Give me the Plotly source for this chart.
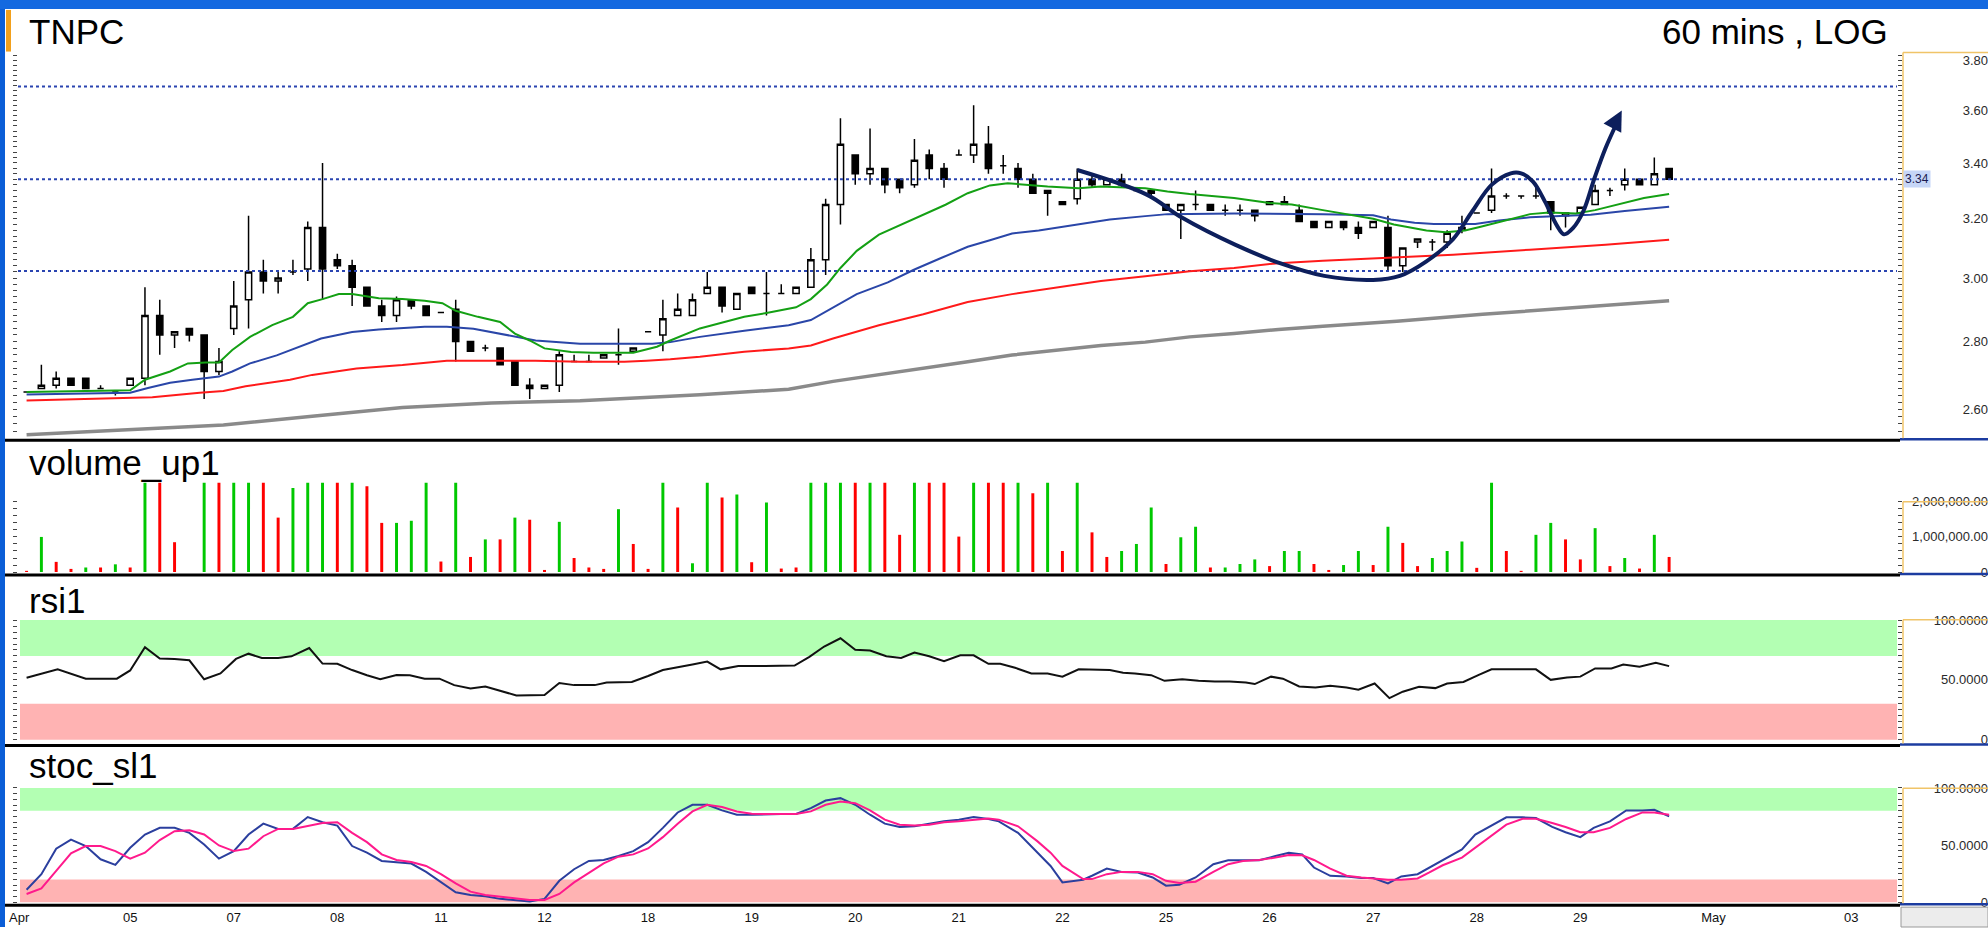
import numpy as np
import plotly.graph_objects as go

# ---------------- data ----------------
bar_index = list(range(112))

open_price = [2.65, 2.66, 2.67, 2.69, 2.69, 2.66, 2.65, 2.67, 2.69, 2.88,
              2.82, 2.84, 2.82, 2.71, 2.84, 2.93, 3.02, 2.99, 3.02, 3.03,
              3.17, 3.06, 3.04, 2.97, 2.91, 2.88, 2.93, 2.91, 2.89, 2.90,
              2.80, 2.78, 2.78, 2.74, 2.67, 2.66, 2.67, 2.74, 2.74, 2.75,
              2.76, 2.77, 2.83, 2.82, 2.88, 2.88, 2.95, 2.97, 2.90, 2.97,
              2.95, 2.95, 2.95, 2.97, 3.06, 3.25, 3.43, 3.36, 3.38, 3.34,
              3.32, 3.43, 3.38, 3.43, 3.43, 3.47, 3.39, 3.38, 3.34, 3.30,
              3.26, 3.27, 3.34, 3.32, 3.34, 3.30, 3.30, 3.25, 3.23, 3.25,
              3.25, 3.23, 3.23, 3.23, 3.25, 3.26, 3.23, 3.19, 3.17, 3.19,
              3.17, 3.17, 3.17, 3.04, 3.12, 3.12, 3.12, 3.16, 3.22, 3.23,
              3.28, 3.28, 3.28, 3.26, 3.21, 3.22, 3.25, 3.30, 3.32, 3.34,
              3.32, 3.38]
high_price = [2.65, 2.73, 2.71, 2.69, 2.69, 2.67, 2.65, 2.69, 2.97, 2.93,
              2.83, 2.84, 2.82, 2.78, 2.99, 3.21, 3.06, 3.02, 3.06, 3.19,
              3.40, 3.08, 3.06, 2.97, 2.93, 2.94, 2.93, 2.91, 2.89, 2.93,
              2.80, 2.79, 2.78, 2.74, 2.69, 2.67, 2.77, 2.76, 2.76, 2.76,
              2.84, 2.78, 2.83, 2.93, 2.95, 2.95, 3.02, 2.97, 2.95, 2.97,
              3.02, 2.98, 2.97, 3.10, 3.27, 3.57, 3.43, 3.53, 3.38, 3.34,
              3.49, 3.45, 3.40, 3.45, 3.62, 3.54, 3.43, 3.40, 3.36, 3.30,
              3.26, 3.38, 3.36, 3.34, 3.36, 3.31, 3.30, 3.25, 3.25, 3.30,
              3.25, 3.25, 3.25, 3.23, 3.26, 3.28, 3.25, 3.19, 3.19, 3.19,
              3.19, 3.19, 3.21, 3.10, 3.13, 3.13, 3.16, 3.21, 3.22, 3.38,
              3.29, 3.28, 3.31, 3.26, 3.22, 3.24, 3.32, 3.31, 3.38, 3.34,
              3.42, 3.38]
low_price = [2.65, 2.66, 2.66, 2.67, 2.66, 2.66, 2.64, 2.67, 2.67, 2.76,
             2.78, 2.80, 2.63, 2.70, 2.82, 2.84, 2.95, 2.95, 3.01, 2.99,
             2.93, 3.03, 2.91, 2.91, 2.86, 2.86, 2.90, 2.88, 2.89, 2.74,
             2.77, 2.77, 2.73, 2.67, 2.63, 2.66, 2.65, 2.74, 2.74, 2.75,
             2.73, 2.77, 2.83, 2.77, 2.88, 2.88, 2.95, 2.89, 2.90, 2.95,
             2.88, 2.95, 2.95, 2.97, 3.01, 3.18, 3.32, 3.32, 3.29, 3.29,
             3.31, 3.34, 3.31, 3.43, 3.40, 3.36, 3.36, 3.31, 3.29, 3.21,
             3.25, 3.25, 3.31, 3.32, 3.31, 3.30, 3.27, 3.23, 3.13, 3.23,
             3.23, 3.21, 3.21, 3.19, 3.25, 3.25, 3.19, 3.17, 3.17, 3.16,
             3.13, 3.17, 3.02, 3.02, 3.10, 3.09, 3.10, 3.15, 3.22, 3.22,
             3.27, 3.27, 3.27, 3.16, 3.17, 3.22, 3.25, 3.28, 3.30, 3.32,
             3.32, 3.34]
close_price = [2.65, 2.67, 2.69, 2.67, 2.66, 2.66, 2.65, 2.69, 2.88, 2.82,
               2.83, 2.82, 2.71, 2.74, 2.91, 3.02, 2.99, 3.00, 3.02, 3.17,
               3.03, 3.04, 2.97, 2.91, 2.88, 2.93, 2.91, 2.88, 2.89, 2.80,
               2.77, 2.78, 2.73, 2.67, 2.66, 2.67, 2.76, 2.74, 2.74, 2.76,
               2.76, 2.78, 2.83, 2.87, 2.90, 2.93, 2.97, 2.91, 2.95, 2.95,
               2.95, 2.95, 2.97, 3.06, 3.25, 3.47, 3.36, 3.38, 3.32, 3.31,
               3.41, 3.38, 3.34, 3.43, 3.47, 3.38, 3.39, 3.34, 3.29, 3.29,
               3.25, 3.34, 3.32, 3.34, 3.32, 3.30, 3.29, 3.23, 3.25, 3.25,
               3.23, 3.23, 3.23, 3.21, 3.26, 3.25, 3.19, 3.17, 3.19, 3.17,
               3.15, 3.19, 3.04, 3.10, 3.13, 3.12, 3.15, 3.17, 3.22, 3.28,
               3.28, 3.28, 3.28, 3.22, 3.22, 3.24, 3.30, 3.30, 3.34, 3.32,
               3.36, 3.34]

# moving averages (x = bar position, value = price)
ma_fast_x = [0, 7, 8, 9.7, 10.9, 12.1, 13, 13.9, 15.1, 16.6, 18, 19, 20, 21.1, 22, 23.8, 25.4, 26.9, 28.1, 29,
             30.5, 32, 33, 34, 35, 36.8, 38.3, 41, 42.6, 43.5, 45.5, 48.5, 50, 52, 53, 54.1, 55, 56.1, 57.6, 59.1,
             60.6, 62.1, 63.6, 65.1, 66.3, 67.2, 69, 71.1, 72.6, 75.6, 77.1, 78.6, 81.6, 84, 85.5, 87.6, 89.4, 91,
             92.4, 94.6, 95.9, 97.2, 98.2, 99.5, 101.6, 102.9, 104.7, 106, 107.5, 109.3, 111]
ma_fast = [2.650, 2.655, 2.686, 2.710, 2.734, 2.737, 2.737, 2.774, 2.814, 2.850, 2.876, 2.919, 2.932, 2.948,
           2.948, 2.935, 2.932, 2.927, 2.919, 2.895, 2.876, 2.860, 2.824, 2.803, 2.779, 2.768, 2.766, 2.766,
           2.784, 2.803, 2.840, 2.876, 2.888, 2.906, 2.932, 2.979, 3.033, 3.090, 3.145, 3.179, 3.214, 3.249,
           3.290, 3.318, 3.326, 3.322, 3.314, 3.308, 3.314, 3.308, 3.296, 3.287, 3.273, 3.255, 3.250, 3.230,
           3.214, 3.200, 3.180, 3.159, 3.153, 3.159, 3.171, 3.188, 3.216, 3.222, 3.218, 3.230, 3.249, 3.273, 3.287]
ma_mid_x = [0, 7, 8.2, 9.7, 11.2, 13, 13.9, 15.1, 16.9, 18.7, 19.9, 22, 23.8, 26.9, 28.4, 30.2, 32, 34.4, 37.4,
            40.4, 42.3, 43.5, 45.5, 48.5, 51.5, 53, 54.5, 56.1, 58.2, 60, 61.8, 63.6, 65.1, 66.6, 68.4, 71.1, 73.2,
            75.6, 77.1, 81.6, 84.6, 87.6, 91, 92.2, 93.8, 95.1, 97.9, 99.5, 101.6, 104.1, 105.7, 108, 111]
ma_mid = [2.643, 2.648, 2.662, 2.677, 2.686, 2.695, 2.710, 2.734, 2.758, 2.788, 2.809, 2.829, 2.837, 2.845,
          2.845, 2.839, 2.824, 2.803, 2.793, 2.793, 2.793, 2.798, 2.814, 2.833, 2.850, 2.866, 2.906, 2.948,
          2.986, 3.028, 3.066, 3.104, 3.126, 3.149, 3.159, 3.179, 3.197, 3.209, 3.216, 3.218, 3.218, 3.216,
          3.212, 3.197, 3.186, 3.182, 3.182, 3.194, 3.205, 3.212, 3.214, 3.227, 3.242]
ma_slow_x = [0, 7, 8.5, 11.7, 13.3, 14.8, 16.3, 17.8, 19.3, 22.3, 25.4, 28.4, 31.4, 34.4, 37.4, 40.4, 41.9, 43.5,
             45.5, 48.5, 51.5, 53, 54.5, 57.6, 60.6, 63.6, 66.6, 69.6, 72.6, 75.6, 78.6, 81.6, 84.6, 87.6, 91.2,
             96.4, 101.6, 106.7, 111]
ma_slow = [2.626, 2.632, 2.635, 2.648, 2.653, 2.667, 2.677, 2.686, 2.700, 2.719, 2.729, 2.742, 2.742, 2.742,
           2.739, 2.739, 2.742, 2.746, 2.754, 2.769, 2.779, 2.788, 2.809, 2.850, 2.884, 2.923, 2.948, 2.969,
           2.990, 3.006, 3.022, 3.033, 3.049, 3.057, 3.066, 3.077, 3.094, 3.111, 3.128]
ma_long_x = [0, 7.3, 13.3, 19.3, 25.4, 31.4, 37.4, 45.5, 51.5, 54.5, 57.6, 60.6, 63.6, 66.6, 69.6, 72.6, 75.6,
             78.6, 81.6, 84.6, 87.6, 92.6, 98.4, 111]
ma_long = [2.530, 2.544, 2.557, 2.581, 2.606, 2.619, 2.625, 2.642, 2.658, 2.681, 2.700, 2.719, 2.739, 2.759,
           2.774, 2.788, 2.798, 2.814, 2.824, 2.837, 2.847, 2.862, 2.884, 2.927]

level_lines = [3.695, 3.34, 3.023]

# hand-drawn navy sketch (bar position, price)
sketch_x = [71.0, 75.7, 78.1, 81.7, 84.7, 87.7, 91.0, 92.8, 94.6, 96.4, 97.7, 99.0, 100.3, 101.0, 101.8, 102.6,
            103.4, 103.9, 104.5, 105.2, 105.96, 106.7, 107.5]
sketch_p = [3.374, 3.285, 3.203, 3.110, 3.049, 3.007, 2.994, 3.007, 3.055, 3.130, 3.226, 3.320, 3.362, 3.362,
            3.332, 3.261, 3.178, 3.146, 3.167, 3.226, 3.345, 3.455, 3.555]
arrow_tip = (107.8, 3.60)

volume_m = [0.03, 1.0, 0.29, 0.09, 0.13, 0.13, 0.22, 0.13, 3.0, 3.0,
            0.85, 0.0, 3.0, 3.0, 3.0, 3.0, 3.0, 1.55, 2.39, 3.0,
            3.0, 3.0, 3.0, 2.44, 1.40, 1.40, 1.46, 3.0, 0.30, 3.0,
            0.43, 0.93, 0.93, 1.55, 1.49, 0.06, 1.43, 0.40, 0.13, 0.09,
            1.79, 0.80, 0.09, 3.0, 1.84, 0.25, 3.0, 2.12, 2.21, 0.28,
            1.98, 0.10, 0.13, 3.0, 3.0, 3.0, 3.0, 3.0, 3.0, 1.06,
            3.0, 3.0, 3.0, 1.01, 3.0, 3.0, 3.0, 3.0, 2.24, 3.0,
            0.60, 3.0, 1.13, 0.43, 0.60, 0.80, 1.84, 0.23, 0.99, 1.29,
            0.13, 0.13, 0.23, 0.36, 0.17, 0.60, 0.60, 0.23, 0.06, 0.20,
            0.60, 0.20, 1.29, 0.83, 0.17, 0.40, 0.60, 0.87, 0.12, 3.0,
            0.60, 0.03, 1.06, 1.40, 0.93, 0.36, 1.25, 0.17, 0.40, 0.10,
            1.06, 0.43]
volume_dir = ['d', 'u', 'd', 'd', 'u', 'd', 'u', 'd', 'u', 'd',
              'd', 'd', 'u', 'd', 'u', 'u', 'd', 'd', 'u', 'u',
              'u', 'd', 'u', 'd', 'd', 'u', 'u', 'u', 'd', 'u',
              'd', 'u', 'd', 'u', 'd', 'd', 'u', 'd', 'd', 'd',
              'u', 'd', 'd', 'u', 'd', 'u', 'u', 'd', 'u', 'd',
              'u', 'd', 'd', 'u', 'u', 'u', 'd', 'u', 'd', 'd',
              'u', 'd', 'd', 'd', 'u', 'd', 'd', 'u', 'd', 'u',
              'd', 'u', 'd', 'd', 'u', 'u', 'u', 'd', 'u', 'u',
              'd', 'u', 'u', 'u', 'd', 'u', 'u', 'd', 'd', 'u',
              'u', 'd', 'u', 'd', 'd', 'u', 'u', 'u', 'd', 'u',
              'd', 'd', 'u', 'u', 'd', 'd', 'u', 'd', 'u', 'd',
              'u', 'd']

rsi_x = [0, 2.1, 4, 6.1, 7, 8, 9, 10, 11, 12, 13.1, 14.15, 15, 15.9, 17, 17.9, 19.1, 20, 21, 22, 23, 23.9, 25,
         25.9, 26.9, 27.9, 28.9, 30, 31, 32, 33.1, 35, 36, 37, 38.4, 39.2, 40.9, 42, 43, 45, 46, 46.9, 48.1, 49.9,
         51.9, 52.9, 53.9, 55, 56, 57, 58.1, 59.1, 60, 61, 62, 63.1, 64, 65, 65.8, 66.8, 67.9, 69, 70, 71.1, 72.2,
         73.2, 74.1, 74.9, 76, 76.9, 78.1, 79.2, 80.3, 81.3, 82.4, 83, 84.1, 84.9, 86, 87.1, 88.1, 89.2, 90, 91.1,
         92.1, 93, 94.1, 95.2, 96, 97.1, 98.1, 99, 102, 103, 104.1, 105, 106, 107.1, 107.9, 109, 110.1, 111]
rsi = [51.7, 58.8, 51.0, 51.0, 57.9, 77.4, 67.8, 67.5, 66.4, 50.5, 55.4, 67.5, 71.9, 68.3, 68.3, 69.7, 76.6,
       63.6, 63.4, 58.2, 53.9, 50.5, 54.1, 53.9, 51.0, 51.0, 45.6, 42.8, 44.5, 40.9, 36.9, 37.4, 47.3, 45.6,
       45.6, 47.8, 48.3, 53.2, 58.2, 62.8, 65.3, 58.8, 61.5, 61.5, 62.0, 69.2, 77.9, 84.8, 75.2, 74.6, 69.7,
       68.3, 72.9, 69.7, 65.6, 70.5, 70.5, 63.4, 63.5, 60.1, 55.4, 55.4, 52.7, 58.8, 58.2, 58.2, 56.0, 55.4,
       53.9, 49.2, 50.5, 49.2, 48.6, 48.6, 47.8, 46.5, 52.7, 51.0, 44.5, 43.6, 45.0, 43.6, 41.8, 47.0, 34.7,
       40.1, 44.3, 43.1, 47.0, 48.3, 53.9, 58.8, 58.8, 50.0, 51.9, 52.7, 59.6, 59.6, 62.8, 60.9, 64.2, 61.5]

stoch_x = list(range(66)) + [65.7, 67.0, 68.3, 69.2, 70.0, 71.4, 72.0, 73.0, 74.0, 75.1, 76.1, 77.0, 77.9,
                             79.0, 80.2, 81.2, 82.2, 83.3, 84.4, 85.3, 86.2, 87.0, 88.1, 89.2, 90.2, 91.0,
                             92.0, 92.9, 94.0, 94.8, 95.7, 97.0, 97.9, 99.0, 100.0, 101.1, 102.0, 103.1,
                             104.0, 105.0, 105.9, 107.0, 108.1, 109.2, 110.0, 111.0]
stoch_k = [11.0, 24.6, 46.9, 54.9, 49.2, 37.6, 32.7, 47.7, 59.3, 65.1, 65.1, 60.7, 50.6, 38.2, 44.8, 59.3,
           68.8, 64.2, 64.2, 74.6, 70.0, 67.1, 49.2, 43.4, 36.2, 35.3, 33.9, 26.6, 17.4, 8.7, 6.4, 5.3, 3.0,
           1.5, 0.6, 3.0, 18.8, 28.9, 36.2, 37.0, 40.5, 44.8, 52.6, 65.1, 78.6, 85.3, 85.3, 80.4, 76.6, 76.6,
           77.2, 77.2, 77.2, 82.4, 89.0, 91.1, 85.3, 76.6, 68.8, 65.9, 66.5, 68.8, 70.8, 72.3, 74.6, 72.9,
           70.8, 60.7, 43.4, 31.8, 17.4, 19.7, 23.2, 29.5, 26.6, 26.1, 21.7, 14.5, 15.4, 21.7, 33.3, 36.7,
           36.7, 36.7, 40.5, 43.4, 41.9, 30.4, 23.2, 22.6, 21.2, 21.2, 16.5, 22.6, 24.6, 30.4, 37.6, 46.3,
           59.3, 67.1, 74.3, 74.3, 73.7, 65.9, 61.3, 57.0, 65.1, 70.8, 80.4, 80.4, 80.9, 75.2]
stoch_d = [7.3, 12.2, 27.5, 42.8, 49.2, 49.2, 44.8, 38.2, 43.4, 54.4, 62.2, 63.0, 59.3, 49.7, 44.8, 46.9,
           57.8, 64.2, 64.2, 67.1, 69.4, 70.0, 60.7, 52.6, 41.9, 37.0, 35.3, 31.8, 24.6, 16.5, 9.3, 6.4, 5.0,
           3.0, 2.1, 2.1, 7.3, 17.4, 26.1, 34.1, 39.9, 41.9, 47.1, 57.0, 68.8, 79.5, 85.3, 83.3, 79.5, 77.5,
           77.2, 77.2, 77.2, 79.5, 85.3, 88.2, 86.7, 80.4, 72.3, 67.9, 67.1, 67.9, 70.0, 70.8, 72.3, 73.4,
           72.3, 66.5, 53.5, 43.4, 31.8, 20.3, 20.3, 24.6, 26.6, 26.6, 24.6, 18.8, 16.8, 18.0, 26.6, 33.3,
           36.2, 37.0, 39.1, 41.4, 41.1, 37.0, 29.5, 23.2, 21.7, 20.9, 19.7, 19.7, 20.9, 26.1, 32.4, 39.1,
           47.7, 57.8, 67.9, 73.1, 73.1, 69.4, 65.9, 61.3, 61.3, 65.1, 72.9, 78.6, 78.6, 76.6]

day_tick_pos = [-0.5, 7, 14, 21, 28, 35, 42, 49, 56, 63, 70, 77, 84, 91, 98, 105, 114, 123.3]
day_tick_text = ["Apr", "05", "07", "08", "11", "12", "18", "19", "20", "21", "22", "25", "26", "27", "28",
                 "29", "May", "03"]
price_ticks = [2.60, 2.80, 3.00, 3.20, 3.40, 3.60, 3.80]
volume_ticks = [0, 1_000_000, 2_000_000]
osc_ticks = [0, 50, 100]

# ---------------- geometry ----------------
W, H = 1988, 935
ML = 18
PLOT_R = 1897
XD = (PLOT_R - ML) / (W - ML)


def px(X):
    return (X - ML) / (W - ML)


def py(Y):
    return 1 - Y / H


X_RANGE = [-0.58, 126.4]
LOG_RANGE = [np.log10(2.523), np.log10(3.834)]
VOL_RANGE = [0, 2.54e6]
RSI_RANGE = [-3.3, 135.2]
STO_RANGE = [-0.8, 134.5]

NAVY = '#0d1f5c'
fig = go.Figure()

# level dotted lines
for lv in level_lines:
    fig.add_trace(go.Scatter(x=X_RANGE, y=[lv, lv], mode='lines',
                             line=dict(color='#2a44b0', width=2, dash='dot'),
                             xaxis='x', yaxis='y', hoverinfo='skip'))

# moving averages
fig.add_trace(go.Scatter(x=ma_long_x, y=ma_long, mode='lines', line=dict(color='#8a8a8a', width=3.5),
                         xaxis='x', yaxis='y', hoverinfo='skip'))
fig.add_trace(go.Scatter(x=ma_slow_x, y=ma_slow, mode='lines', line=dict(color='#ff1a1a', width=2),
                         xaxis='x', yaxis='y', hoverinfo='skip'))
fig.add_trace(go.Scatter(x=ma_mid_x, y=ma_mid, mode='lines', line=dict(color='#2a46a8', width=2),
                         xaxis='x', yaxis='y', hoverinfo='skip'))
fig.add_trace(go.Scatter(x=ma_fast_x, y=ma_fast, mode='lines', line=dict(color='#14a014', width=2),
                         xaxis='x', yaxis='y', hoverinfo='skip'))

# candles
fig.add_trace(go.Candlestick(x=bar_index, open=open_price, high=high_price, low=low_price, close=close_price,
                             increasing=dict(line=dict(color='black', width=1.5), fillcolor='white'),
                             decreasing=dict(line=dict(color='black', width=1.5), fillcolor='black'),
                             whiskerwidth=0, xaxis='x', yaxis='y', hoverinfo='skip'))

# sketch
fig.add_trace(go.Scatter(x=sketch_x, y=sketch_p, mode='lines', line=dict(color=NAVY, width=4, shape='spline'),
                         xaxis='x', yaxis='y', hoverinfo='skip'))

# volume
vol_colors = ['#00c800' if d == 'u' else '#ff0000' for d in volume_dir]
fig.add_trace(go.Bar(x=bar_index, y=[v * 1e6 for v in volume_m], marker=dict(color=vol_colors, line=dict(width=0)),
                     width=0.2, xaxis='x', yaxis='y2', hoverinfo='skip'))

# rsi
fig.add_trace(go.Scatter(x=rsi_x, y=rsi, mode='lines', line=dict(color='#111111', width=2),
                         xaxis='x', yaxis='y3', hoverinfo='skip'))

# stochastic
fig.add_trace(go.Scatter(x=stoch_x, y=stoch_k, mode='lines', line=dict(color='#2b3f9e', width=2),
                         xaxis='x', yaxis='y4', hoverinfo='skip'))
fig.add_trace(go.Scatter(x=stoch_x, y=stoch_d, mode='lines', line=dict(color='#ff1a8c', width=2),
                         xaxis='x', yaxis='y4', hoverinfo='skip'))

# empty traces to realise the label axes
for ax in ['y5', 'y6', 'y7', 'y8']:
    fig.add_trace(go.Scatter(x=[None], y=[None], xaxis='x', yaxis=ax, hoverinfo='skip'))

ruler = dict(showticklabels=False, ticks='outside', ticklen=4, tickcolor='#444', tickwidth=1,
             mirror='ticks', showgrid=False, zeroline=False, showline=False, side='right', anchor='x',
             fixedrange=True)
label_ax = dict(anchor='free', position=1.0, side='left', ticks='', showgrid=False, zeroline=False,
                showline=False, tickfont=dict(size=13, color='#2a2a2a', family='Liberation Sans, Arial'),
                fixedrange=True)

fig.update_layout(
    width=W, height=H, margin=dict(l=ML, r=0, t=0, b=0),
    paper_bgcolor='white', plot_bgcolor='white', showlegend=False, hovermode=False,
    font=dict(family='Liberation Sans, Arial, sans-serif', color='black'),
    boxgap=0.4,
    xaxis=dict(domain=[0, XD], range=X_RANGE, anchor='y4', tickmode='array', tickvals=day_tick_pos,
               ticktext=day_tick_text, ticks='', showgrid=False, zeroline=False, showline=False,
               rangeslider=dict(visible=False), fixedrange=True, ticklabelstandoff=5,
               tickfont=dict(size=13, color='#111', family='Liberation Sans Narrow, Liberation Sans, Arial')),
    yaxis=dict(domain=[py(441), py(53)], type='log', range=LOG_RANGE,
               tickvals=list(np.round(np.arange(2.54, 3.84, 0.02), 2)), **ruler),
    yaxis2=dict(domain=[py(577), py(487)], range=VOL_RANGE,
                tickvals=list(np.arange(0, 2.01e6, 2e5)), **ruler),
    yaxis3=dict(domain=[py(750), py(583)], range=RSI_RANGE, tickvals=list(range(0, 101, 5)), **ruler),
    yaxis4=dict(domain=[py(911), py(755)], range=STO_RANGE, tickvals=list(range(0, 101, 5)), **ruler),
    yaxis5=dict(overlaying='y', type='log', range=LOG_RANGE, tickvals=price_ticks,
                ticktext=[f'{v:.2f}' for v in price_ticks], **label_ax),
    yaxis6=dict(overlaying='y2', range=VOL_RANGE, tickvals=volume_ticks,
                ticktext=['0', '1,000,000.00', '2,000,000.00'], **label_ax),
    yaxis7=dict(overlaying='y3', range=RSI_RANGE, tickvals=osc_ticks,
                ticktext=['0', '50.0000', '100.0000'], **label_ax),
    yaxis8=dict(overlaying='y4', range=STO_RANGE, tickvals=osc_ticks,
                ticktext=['0', '50.0000', '100.0000'], **label_ax),
)

shapes = []
# oscillator bands
for yr, lo, hi, col in [('y3', 70, 100, '#b3ffb3'), ('y3', 0, 30, '#ffb3b3'),
                        ('y4', 80, 100, '#b3ffb3'), ('y4', 0, 20, '#ffb3b3')]:
    shapes.append(dict(type='rect', xref='paper', yref=yr, x0=px(20), x1=XD, y0=lo, y1=hi,
                       fillcolor=col, line=dict(width=0), layer='below'))
# window chrome
shapes.append(dict(type='rect', xref='paper', yref='paper', x0=px(0), x1=1, y0=py(9), y1=1,
                   fillcolor='#1469e0', line=dict(width=0)))
shapes.append(dict(type='rect', xref='paper', yref='paper', x0=px(0), x1=px(5), y0=0, y1=py(9),
                   fillcolor='#0b5ed7', line=dict(width=0)))
shapes.append(dict(type='rect', xref='paper', yref='paper', x0=px(6), x1=px(11), y0=py(52), y1=py(10),
                   fillcolor='#f2a01c', line=dict(width=0)))
# panel dividers
for Y in [444, 580, 752, 913]:
    shapes.append(dict(type='line', xref='paper', yref='paper', x0=px(5), x1=px(1900), y0=py(Y), y1=py(Y),
                       line=dict(color='black', width=3)))
    shapes.append(dict(type='line', xref='paper', yref='paper', x0=px(1900), x1=1, y0=py(Y - 1), y1=py(Y - 1),
                       line=dict(color='#1c3ca0', width=2.5)))
# axis cell borders (yellow)
for top, bot in [(53, 442), (506, 578), (625, 750), (795, 911)]:
    shapes.append(dict(type='line', xref='paper', yref='paper', x0=px(1903), x1=px(1903), y0=py(bot),
                       y1=py(top), line=dict(color='#f0c468', width=1.5)))
    shapes.append(dict(type='line', xref='paper', yref='paper', x0=px(1903), x1=1, y0=py(top),
                       y1=py(top), line=dict(color='#f0c468', width=1.5)))
# bottom-right button
shapes.append(dict(type='rect', xref='paper', yref='paper', x0=px(1901), x1=1, y0=0, y1=py(915),
                   fillcolor='#ececec', line=dict(color='#9a9a9a', width=1)))
fig.update_layout(shapes=shapes)

ann = []
ann.append(dict(text='TNPC', xref='paper', yref='paper', x=px(27), y=py(32), xanchor='left', yanchor='middle',
                showarrow=False, font=dict(size=35, color='black')))
ann.append(dict(text='60 mins , LOG', xref='paper', yref='paper', x=px(1890), y=py(32), xanchor='right',
                yanchor='middle', showarrow=False, font=dict(size=35, color='black')))
for txt, Y in [('volume_up1', 466), ('rsi1', 606), ('stoc_sl1', 772)]:
    ann.append(dict(text=txt, xref='paper', yref='paper', x=px(27), y=py(Y), xanchor='left', yanchor='middle',
                    showarrow=False, font=dict(size=35, color='black')))
ann.append(dict(text='3.34', xref='paper', yref='y', x=px(1903), y=np.log10(3.34), xanchor='left',
                yanchor='middle', showarrow=False, bgcolor='#c6d6f7', borderpad=1,
                font=dict(size=12, color='#1a1a50')))
ann.append(dict(text='', xref='x', yref='y', x=arrow_tip[0], y=np.log10(arrow_tip[1]),
                axref='x', ayref='y', ax=sketch_x[-2] + 0.5, ay=np.log10(sketch_p[-1] - 0.02),
                showarrow=True, arrowhead=2, arrowsize=1, arrowwidth=4, arrowcolor=NAVY))
fig.update_layout(annotations=ann)

# remove the default page margin so the 1988x935 figure fills the window exactly
fig.write_html("out.html", config={'displayModeBar': False},
               post_script="document.body.style.margin='0px';document.body.style.overflow='hidden';")
